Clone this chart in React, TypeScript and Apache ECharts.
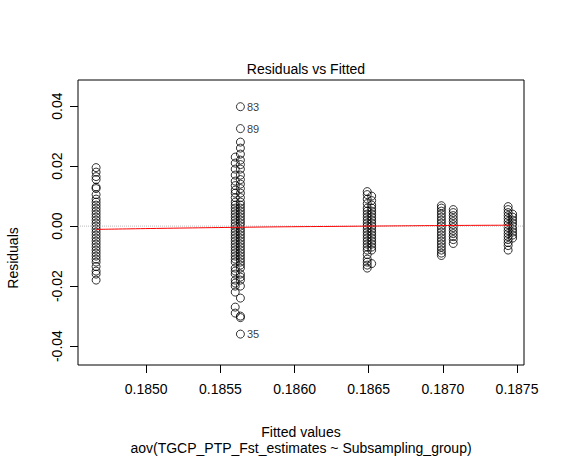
import { useEffect, useRef } from 'react'
import * as echarts from 'echarts'

// fitted value groups (x) and residuals
const groupX = [0.184662, 0.1856, 0.185635, 0.18649, 0.18652, 0.18699, 0.18707, 0.18744, 0.18747]
const resA = [0.0195, 0.018, 0.0165, 0.0155, 0.013, 0.0125, 0.0105, 0.009, 0.008, 0.007, 0.006, 0.005, 0.004, 0.003, 0.002, 0.001, 0.0, -0.001, -0.002, -0.003, -0.004, -0.005, -0.006, -0.007, -0.008, -0.009, -0.010, -0.011, -0.012, -0.0135, -0.015, -0.016, -0.018]
const resB1 = [0.023, 0.021, 0.019, 0.017, 0.015, 0.0135, 0.012, 0.011, 0.0095, 0.008, 0.007, 0.006, 0.005, 0.004, 0.003, 0.002, 0.001, 0.0, -0.001, -0.002, -0.003, -0.004, -0.005, -0.006, -0.007, -0.008, -0.009, -0.010, -0.011, -0.012, -0.014, -0.015, -0.016, -0.018, -0.019, -0.020, -0.022, -0.027, -0.029]
const resB2 = [0.0398, 0.0325, 0.028, 0.026, 0.024, 0.022, 0.0205, 0.019, 0.017, 0.0155, 0.014, 0.0125, 0.011, 0.0095, 0.008, 0.007, 0.006, 0.005, 0.004, 0.003, 0.002, 0.001, 0.0, -0.001, -0.002, -0.003, -0.004, -0.005, -0.006, -0.007, -0.008, -0.009, -0.010, -0.011, -0.012, -0.013, -0.014, -0.016, -0.017, -0.018, -0.020, -0.024, -0.030, -0.0305, -0.036]
const resC1 = [0.0115, 0.0105, 0.009, 0.0075, 0.006, 0.005, 0.004, 0.003, 0.002, 0.001, 0.0, -0.001, -0.002, -0.003, -0.004, -0.005, -0.006, -0.007, -0.008, -0.0095, -0.011, -0.012, -0.013, -0.014]
const resC2 = [0.010, 0.0085, 0.007, 0.006, 0.005, 0.004, 0.003, 0.002, 0.001, 0.0, -0.001, -0.002, -0.003, -0.004, -0.005, -0.006, -0.007, -0.008, -0.0125]
const resD1 = [0.0068, 0.006, 0.005, 0.004, 0.003, 0.002, 0.001, 0.0, -0.001, -0.002, -0.003, -0.004, -0.005, -0.006, -0.007, -0.008, -0.009, -0.0098]
const resD2 = [0.0055, 0.0045, 0.0035, 0.0025, 0.0015, 0.0005, -0.0005, -0.0015, -0.0025, -0.0035, -0.0045, -0.0058]
const resE1 = [0.0065, 0.0055, 0.0045, 0.0035, 0.0025, 0.0015, 0.0005, -0.0005, -0.0015, -0.0025, -0.0035, -0.0045, -0.0055, -0.0065, -0.008]
const resE2 = [0.004, 0.003, 0.002, 0.001, 0.0, -0.001, -0.002, -0.003, -0.004]
const residualGroups = [resA, resB1, resB2, resC1, resC2, resD1, resD2, resE1, resE2]
const labelledPoints: Record<string, number> = { '83': 0.0398, '89': 0.0325, '35': -0.036 }
// red smoother
const smoothX = [0.184662, 0.18562, 0.18651, 0.18703, 0.187455]
const smoothY = [-0.0011, -0.0004, 0.0, 0.0002, 0.0003]
const xTicks = [0.185, 0.1855, 0.186, 0.1865, 0.187, 0.1875]
const yTicks = [-0.04, -0.02, 0, 0.02, 0.04]

const FONT = 'Liberation Sans, Arial, sans-serif'

export default function App() {
  const ref = useRef<HTMLDivElement>(null)

  useEffect(() => {
    if (!ref.current) return
    document.body.style.margin = '0'
    const chart = echarts.init(ref.current, null, { renderer: 'svg' })

    const points: any[] = []
    residualGroups.forEach((g, i) => {
      g.forEach((r) => {
        const lbl = i === 2 ? Object.keys(labelledPoints).find((k) => labelledPoints[k] === r) : undefined
        points.push(
          lbl
            ? { value: [groupX[i], r], label: { show: true, formatter: lbl, position: 'right', distance: 2, color: '#000', fontSize: 11, fontFamily: FONT } }
            : [groupX[i], r]
        )
      })
    })

    chart.setOption({
      animation: false,
      title: {
        text: 'Residuals vs Fitted',
        left: 301, top: 57, textAlign: 'center',
        textStyle: { fontSize: 14, fontWeight: 'normal', color: '#000', fontFamily: FONT },
      },
      grid: { left: 78, right: 41, top: 80, bottom: 95, show: true, borderColor: '#000', borderWidth: 1 },
      xAxis: {
        type: 'value', min: 0.18454, max: 0.187547,
        axisLine: { show: false, onZero: false },
        axisTick: { show: true, length: 8, lineStyle: { color: '#000' }, customValues: xTicks },
        axisLabel: { color: '#000', fontSize: 14, fontFamily: FONT, margin: 17, customValues: xTicks, formatter: (v: number) => v.toFixed(4) },
        splitLine: { show: false },
      },
      yAxis: {
        type: 'value', min: -0.0463, max: 0.0487,
        axisLine: { show: false, onZero: false },
        axisTick: { show: true, length: 8, lineStyle: { color: '#000' }, customValues: yTicks },
        axisLabel: { color: '#000', fontSize: 14, fontFamily: FONT, rotate: 90, margin: 14, customValues: yTicks, formatter: (v: number) => v.toFixed(2) },
        splitLine: { show: false },
      },
      graphic: [
        { type: 'text', x: 301, y: 425, style: { text: 'Fitted values', fontSize: 14, fill: '#000', fontFamily: FONT, align: 'center' } },
        { type: 'text', x: 301, y: 441, style: { text: 'aov(TGCP_PTP_Fst_estimates ~ Subsampling_group)', fontSize: 14, fill: '#000', fontFamily: FONT, align: 'center' } },
        { type: 'text', x: 6, y: 258, rotation: Math.PI / 2, style: { text: 'Residuals', fontSize: 14, fill: '#000', fontFamily: FONT, align: 'center' } },
      ],
      series: [
        {
          type: 'line', data: [[0.18454, 0], [0.187547, 0]], symbol: 'none', silent: true,
          lineStyle: { color: '#bbb', type: 'dotted', width: 1 },
        },
        {
          type: 'scatter', data: points, symbol: 'circle', symbolSize: 8,
          itemStyle: { color: 'rgba(0,0,0,0)', borderColor: '#000', borderWidth: 1 },
        },
        {
          type: 'line', data: smoothX.map((x, i) => [x, smoothY[i]]), symbol: 'none', smooth: true,
          lineStyle: { color: '#ff0000', width: 1 },
        },
      ],
    })
    return () => chart.dispose()
  }, [])

  return <div ref={ref} style={{ width: 565, height: 460 }} />
}
